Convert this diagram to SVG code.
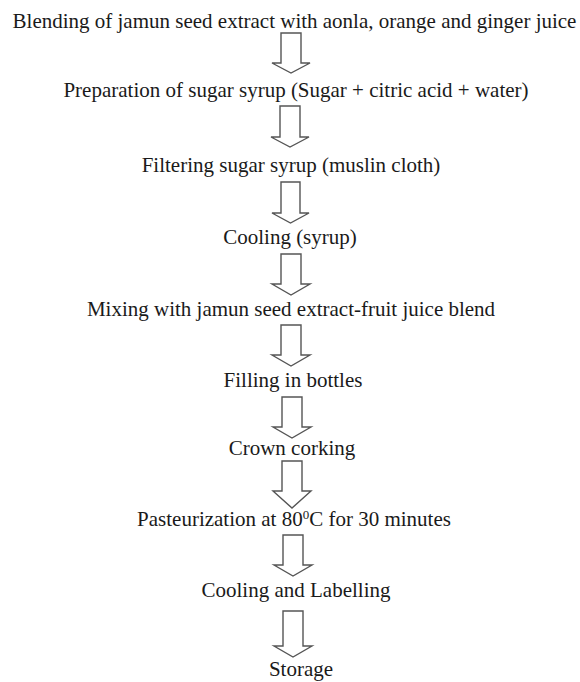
<svg xmlns="http://www.w3.org/2000/svg" width="580" height="682" viewBox="0 0 580 682">
<style>
text{font-family:"Liberation Serif","Times New Roman",serif;font-size:21px;fill:#1a1a1a;text-anchor:middle}
.arr{fill:#ffffff;stroke:#555555;stroke-width:1.4;stroke-linejoin:miter}
</style>
<rect width="580" height="682" fill="#ffffff"/>
<g id="n1"><text x="294.5" y="28">Blending of jamun seed extract with aonla, orange and ginger juice</text></g>
<g id="n2"><text x="296" y="97">Preparation of sugar syrup (Sugar + citric acid + water)</text></g>
<g id="n3"><text x="291" y="172">Filtering sugar syrup (muslin cloth)</text></g>
<g id="n4"><text x="290" y="244">Cooling (syrup)</text></g>
<g id="n5"><text x="291" y="316">Mixing with jamun seed extract-fruit juice blend</text></g>
<g id="n6"><text x="293" y="387">Filling in bottles</text></g>
<g id="n7"><text x="292" y="455">Crown corking</text></g>
<g id="n8"><text x="294" y="526">Pasteurization at 80<tspan font-size="13" dy="-7">0</tspan><tspan dy="7">C for 30 minutes</tspan></text></g>
<g id="n9"><text x="296" y="597">Cooling and Labelling</text></g>
<g id="n10"><text x="301" y="676">Storage</text></g>
<g id="connectors">
<path class="arr" d="M281,33 H301 V63 H310 L291,73 L272,63 H281 Z"/>
<path class="arr" d="M280,106 H300 V137 H309 L290,147 L271,137 H280 Z"/>
<path class="arr" d="M281,182 H300 V213 H309 L290.5,223 L272,213 H281 Z"/>
<path class="arr" d="M281,254 H301 V284 H310 L291,295 L272,284 H281 Z"/>
<path class="arr" d="M281,325 H301 V355 H310 L291,366 L272,355 H281 Z"/>
<path class="arr" d="M282,397 H302 V427 H311 L292,438 L273,427 H282 Z"/>
<path class="arr" d="M282,461 H302 V491 H311 L292,508 L273,491 H282 Z"/>
<path class="arr" d="M283,535 H303 V565 H312 L293,576 L274,565 H283 Z"/>
<path class="arr" d="M283,611 H303 V646 H312 L293,657 L274,646 H283 Z"/>
</g>
</svg>
